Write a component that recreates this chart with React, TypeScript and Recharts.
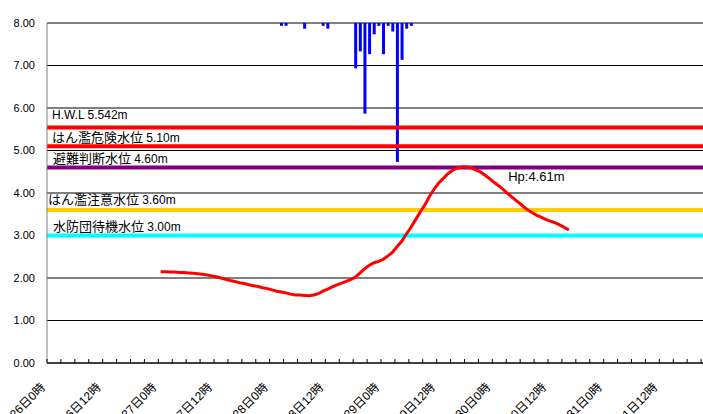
import {
  Bar,
  CartesianGrid,
  ComposedChart,
  Line,
  ReferenceDot,
  ReferenceLine,
  XAxis,
  YAxis,
} from "recharts";

// hours counted from 26日0時
const startDay = 26;
const daysInMonth = 31;
const hoursShown = 144;

const levelStartHour = 24;
const waterLevel = [
  2.15, 2.15, 2.14, 2.14, 2.13, 2.13, 2.12, 2.11, 2.1, 2.09, 2.07, 2.05,
  2.03, 2.0, 1.97, 1.94, 1.92, 1.89, 1.87, 1.84, 1.82, 1.8, 1.77, 1.75,
  1.72, 1.69, 1.67, 1.65, 1.62, 1.6, 1.6, 1.59, 1.58, 1.6, 1.63, 1.69,
  1.74, 1.79, 1.84, 1.88, 1.92, 1.97, 2.02, 2.12, 2.22, 2.3, 2.36, 2.39,
  2.44, 2.52, 2.61, 2.74, 2.87, 3.04, 3.2, 3.38, 3.56, 3.73, 3.93, 4.1,
  4.24, 4.35, 4.46, 4.54, 4.59, 4.61, 4.61, 4.59, 4.54, 4.49, 4.41, 4.33,
  4.24, 4.16, 4.07, 3.97, 3.88, 3.79, 3.7, 3.61, 3.54, 3.48, 3.43, 3.38,
  3.34, 3.3, 3.25, 3.19, 3.13,
];

const rainHours = [50, 51, 55, 59, 60, 66, 67, 68, 69, 70, 71, 72, 73, 74, 75, 76, 77, 78];
const rainMm = [0.5, 0.5, 1, 0.5, 1, 8, 5, 16, 5.5, 2, 0.5, 5.5, 0.5, 1.5, 24.5, 6.5, 1, 0.5];

const levelNames = ["H.W.L", "はん濫危険水位", "避難判断水位", "はん濫注意水位", "水防団待機水位"];
const levelValues = [5.542, 5.1, 4.6, 3.6, 3.0];
const levelColors = ["#ff0000", "#ff0000", "#800080", "#ffcc00", "#00ffff"];
const labelShift = [
  [5, -8.5],
  [5, -4.5],
  [6, -4.5],
  [1, -6],
  [6, -4.5],
];

const yTicks = [0, 1, 2, 3, 4, 5, 6, 7, 8];
const xTicks = Array.from({ length: hoursShown / 3 + 1 }, (_, i) => i * 3);

const data = waterLevel.map((v, i) => {
  const h = levelStartHour + i;
  const r = rainHours.indexOf(h);
  return { t: h + 0.5, level: v, rain: r >= 0 ? rainMm[r] : null };
});

const peak = Math.max(...waterLevel);
const peakT = levelStartHour + waterLevel.indexOf(peak) + 0.5;

const FONT = "'Liberation Sans', Arial, 'Noto Sans CJK JP', sans-serif";

function hourLabel(h: number) {
  let d = startDay + Math.floor(h / 24);
  if (d > daysInMonth) d -= daysInMonth;
  return `${d}日${h % 24}時`;
}

function HourTick(props: any) {
  const { x, y, payload } = props;
  const h = payload.value;
  const ax = x - 1;
  const ay = y + 25;
  return (
    <g>
      <line x1={x} y1={y} x2={x} y2={y - 4} stroke="#000" />
      {h % 12 === 0 && h < hoursShown && (
        <text
          x={ax}
          y={ay}
          transform={`rotate(-45 ${ax} ${ay})`}
          textAnchor="end"
          fontSize={12}
          fill="#000"
          fontFamily={FONT}
        >
          {hourLabel(h)}
        </text>
      )}
    </g>
  );
}

function fmtLevel(v: number) {
  return Number.isInteger(Math.round(v * 1000) / 10) ? v.toFixed(2) : v.toFixed(3);
}

export default function App() {
  return (
    <div
      style={{
        position: "absolute",
        left: 0,
        top: 0,
        width: 703,
        height: 414,
        overflow: "hidden",
        background: "#fff",
      }}
    >
      <ComposedChart
        width={715}
        height={414}
        data={data}
        margin={{ top: 23, right: 0, bottom: 0, left: 0 }}
      >
        <CartesianGrid vertical={false} stroke="#000" />
        <XAxis
          dataKey="t"
          type="number"
          domain={[0, hoursShown]}
          ticks={xTicks}
          interval={0}
          height={51}
          tickSize={0}
          tickMargin={0}
          tickLine={false}
          axisLine={{ stroke: "#000" }}
          tick={<HourTick />}
          allowDataOverflow
        />
        <YAxis
          domain={[0, 8]}
          ticks={yTicks}
          width={47}
          tickLine={false}
          tickSize={0}
          tickMargin={12}
          axisLine={{ stroke: "#808080" }}
          tickFormatter={(v: number) => v.toFixed(2)}
          tick={{ fontSize: 11, fill: "#000", fontFamily: FONT }}
        />
        <YAxis yAxisId="rain" orientation="right" domain={[0, 60]} reversed hide />
        <Bar
          yAxisId="rain"
          dataKey="rain"
          fill="#0000ff"
          barSize={3}
          isAnimationActive={false}
        />
        {levelValues.map((v, i) => (
          <ReferenceLine
            key={levelNames[i]}
            y={v}
            stroke={levelColors[i]}
            strokeWidth={4}
            label={(p: any) => (
              <text
                x={p.viewBox.x + labelShift[i][0]}
                y={p.viewBox.y + labelShift[i][1]}
                fill="#000"
                fontFamily={FONT}
              >
                <tspan fontSize={i === 0 ? 12 : 13}>{levelNames[i]}</tspan>
                <tspan fontSize={12}>{` ${fmtLevel(v)}m`}</tspan>
              </text>
            )}
          />
        ))}
        <Line
          dataKey="level"
          stroke="#ff0000"
          strokeWidth={3}
          dot={false}
          type="linear"
          isAnimationActive={false}
        />
        <ReferenceDot
          x={peakT}
          y={peak}
          r={0}
          fill="none"
          stroke="none"
          label={(p: any) => (
            <text
              x={p.viewBox.x + 46}
              y={p.viewBox.y + 14}
              fontSize={13}
              fill="#000"
              fontFamily={FONT}
            >
              {`Hp:${peak.toFixed(2)}m`}
            </text>
          )}
        />
      </ComposedChart>
    </div>
  );
}
